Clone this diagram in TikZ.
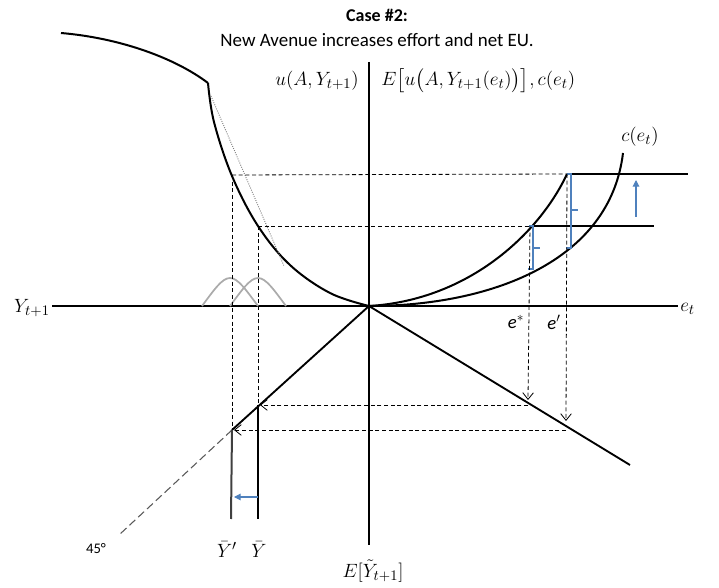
\documentclass[tikz,border=0pt]{standalone}
\usepackage{fontspec}
\setmainfont{Carlito}
\usepackage{amsmath,amssymb}
\usetikzlibrary{arrows.meta}
\definecolor{shiftblue}{HTML}{4F81BD}
\definecolor{hump}{HTML}{ABABAB}

\begin{document}
\begin{tikzpicture}[x=0.75pt,y=-0.75pt,
  axis/.style={line width=2.2pt},
  curve/.style={line width=1.5pt},
  guide/.style={line width=0.6pt,dash pattern=on 3pt off 2pt},
  guidearr/.style={guide,-{Straight Barb[length=5pt,width=8pt]}},
  brace/.style={shiftblue,line width=1.1pt},
  lbl/.style={inner sep=0pt,font=\fontsize{15}{17}\selectfont}]
  \useasboundingbox (0,0) rectangle (719,588);

  % title
  \node[font=\fontsize{13.5}{15}\selectfont\bfseries] (case) at (377,15) {Case \#2:};
  \node[font=\fontsize{14.2}{16}\selectfont] (title) at (377,40) {New Avenue increases effort and net EU.};

  % key points
  \coordinate (O) at (369,306);
  \coordinate (Ustar) at (258,226);
  \coordinate (Uprime) at (232,175);
  \coordinate (Estar) at (530,226);
  \coordinate (Eprime) at (567,174);
  \coordinate (Ybar) at (258,405);
  \coordinate (Ybarp) at (232,430);

  % axes
  \draw[axis] (52,306) -- (678,306);
  \draw[axis] (369,62) -- (369,545);
  \node[lbl,anchor=east] (yaxis) at (50,308) {$Y_{t+1}$};
  \node[lbl,anchor=west] (eaxis) at (680,309) {$e_t$};
  \node[lbl,anchor=east] (ulbl) at (359,81) {$u(A,Y_{t+1})$};
  \node[lbl,anchor=west] (eulbl) at (381,81) {$E\big[u\big(A,Y_{t+1}(e_t)\big)\big],c(e_t)$};
  \node[lbl] (eylbl) at (373,571) {$E[\tilde{Y}_{t+1}]$};

  % utility of income
  \draw[curve] (61,33) .. controls (120,38) and (175,58) .. (208,83);
  \draw[curve] plot[smooth,tension=0.6] coordinates {(208,83) (214,122) (232,176) (258,226) (290,265) (330,293) (369,306)};
  \draw[gray,line width=0.7pt,densely dotted] (211,96) -- (284,266);

  % income distributions
  \draw[hump,line width=1.3pt] (202,306) .. controls (214,290) and (222,278) .. (230,278)
    .. controls (238,278) and (246,290) .. (258,306);
  \draw[hump,line width=1.3pt] (230,306) .. controls (242,290) and (250,278) .. (258,278)
    .. controls (266,278) and (274,290) .. (286,306);

  % expected utility and cost
  \draw[curve] (O) .. controls (470,300) and (540,232) .. (Eprime);
  \draw[curve] (O) .. controls (490,306) and (610,262) .. (623,153);
  \node[lbl] (clbl) at (640,137) {$c(e_t)$};
  \draw[line width=0.9pt] (Eprime) -- (688,174);
  \draw[line width=1.2pt] (Estar) -- (654,226);
  \draw[shiftblue,line width=0.8pt,-{Triangle[length=5pt,width=5pt]}] (636,217) -- (636,180);

  % net EU braces
  \draw[brace] (529,226) -- (533,226) -- (533,269) -- (528,269);
  \draw[brace] (533,248) -- (540,248);
  \draw[brace] (567,174) -- (571,174) -- (571,248) -- (566,248);
  \draw[brace] (571,210) -- (578,210);

  % effort levels
  \node[lbl,font=\fontsize{14}{16}\selectfont\itshape] (estar) at (516,322) {e$^{*}$};
  \node[lbl,font=\fontsize{14}{16}\selectfont\itshape] (eprime) at (554,322) {e$'$};

  % guides
  \draw[guide] (Uprime) -- (Eprime);
  \draw[guide] (Ustar) -- (Estar);
  \draw[guide] (Uprime) -- (Ybarp);
  \draw[guide] (Ustar) -- (Ybar);
  \draw[guidearr] (Estar) -- (528,400);
  \draw[guidearr] (Eprime) -- (566,421);
  \draw[guidearr] (528,405) -- (260,405);
  \draw[guidearr] (566,430) -- (234,430);

  % effort to income
  \draw[line width=1.4pt] (O) -- (630,465);
  \draw[line width=1.4pt] (O) -- (Ybarp);
  \draw[gray!70!black,line width=0.8pt,dash pattern=on 6pt off 3pt] (Ybarp) -- (119,535);
  \node[font=\fontsize{11}{13}\selectfont] (deg) at (96,549) {45°};
  \draw[line width=1.5pt] (Ybar) -- (258,519);
  \draw[line width=1.5pt,black!75] (Ybarp) -- (231,519);
  \draw[shiftblue,line width=0.8pt,-{Triangle[length=5pt,width=5pt]}] (258,497) -- (234,497);
  \node[lbl] (yb) at (259,550) {$\bar{Y}$};
  \node[lbl] (ybp) at (227,550) {$\bar{Y}'$};
\end{tikzpicture}
\end{document}
